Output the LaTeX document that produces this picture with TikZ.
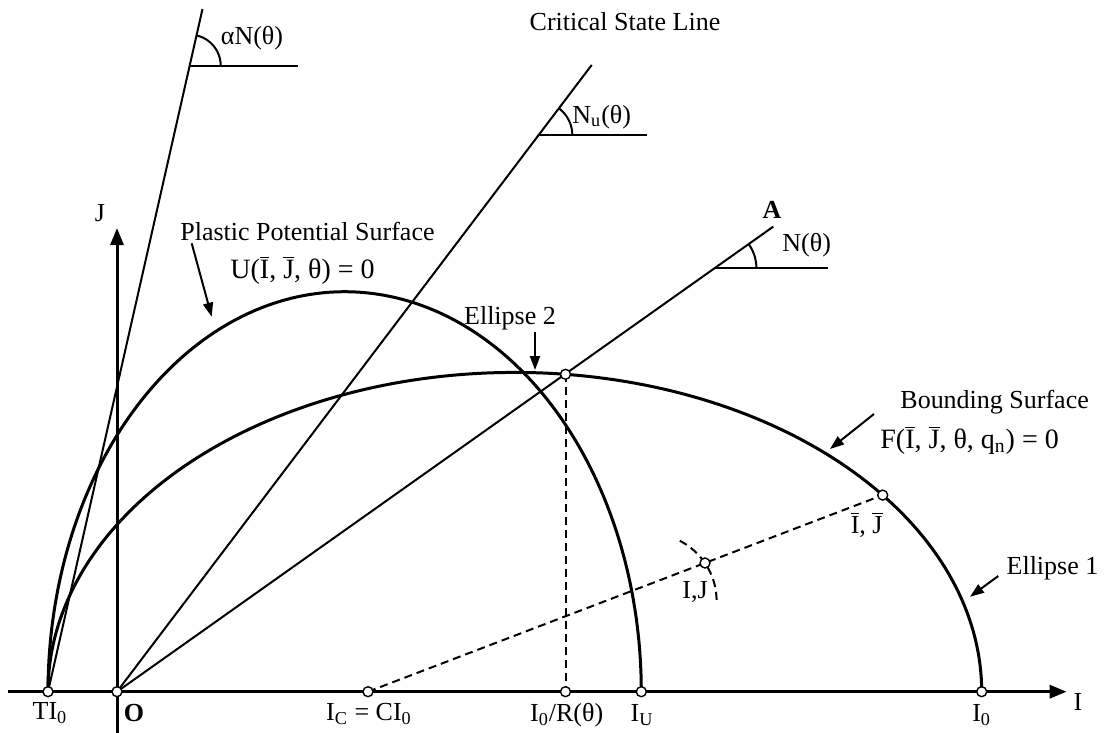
\documentclass[tikz,border=0pt]{standalone}
\usepackage{fontspec}
\setmainfont{Liberation Serif}
\usetikzlibrary{arrows.meta}
\newcommand{\ob}[1]{$\overline{\mbox{#1}}$}
\begin{document}
\begin{tikzpicture}[x=0.5pt,y=-0.5pt,
  lbl/.style={font=\fontsize{13pt}{15pt}\selectfont, inner sep=0pt},
  eqn/.style={font=\fontsize{14pt}{16pt}\selectfont, inner sep=0pt},
  pt/.style={circle,draw,fill=white,inner sep=0pt,minimum size=5pt,line width=0.7pt},
  axisline/.style={line width=1.5pt,-{Triangle[length=8.5pt,width=6.5pt]}},
  curve/.style={line width=1.5pt},
  thinline/.style={line width=1pt},
  dashline/.style={line width=1pt,dash pattern=on 4pt off 2.5pt},
  callout/.style={line width=1pt,-{Triangle[length=7pt,width=5pt]}},
  angmark/.style={line width=1pt}
]
\useasboundingbox (0,0) rectangle (1104,733);

% key coordinates
\coordinate (O) at (117,691.7);
\coordinate (TI) at (48,691.7);
\coordinate (IC) at (368,691.7);
\coordinate (IR) at (565.5,691.7);
\coordinate (IU) at (641.3,691.7);
\coordinate (I0) at (981.7,691.7);
\coordinate (P) at (565.5,374.3);
\coordinate (B) at (882.7,495.1);
\coordinate (IJ) at (705,563);
\coordinate (CSLend) at (591.7,65);
\coordinate (Aend) at (773.3,226.6);
\coordinate (aNend) at (202.5,9);
\coordinate (Xs) at (8,691.7);
\coordinate (Xe) at (1066.7,691.7);
\coordinate (Js) at (117,733);
\coordinate (Je) at (117,228);
\coordinate (V1) at (189.7,65.7);
\coordinate (H1) at (298.3,65.7);
\coordinate (V2) at (539.3,135);
\coordinate (H2) at (646.7,135);
\coordinate (V3) at (714.4,268.3);
\coordinate (H3) at (828.3,268.3);

% surfaces
\draw[curve] plot[domain=180:360,samples=150] ({514.85+466.85*cos(\x)},{691.7+319.3*sin(\x)});
\draw[curve] plot[domain=180:360,samples=150] ({344.65+296.65*cos(\x)},{691.7+400*sin(\x)});
\draw[dashline] plot[domain=1:66,samples=40] ({649+67.6*cos(\x)},{601-67.6*sin(\x)});

% lines through O and TI0
\draw[thinline] (O) -- (CSLend);
\draw[thinline] (O) -- (Aend);
\draw[thinline] (TI) -- (aNend);

% dashed lines
\draw[dashline] (P) -- (IR);
\draw[dashline] (IC) -- (B);

% axes
\draw[axisline] (Xs) -- (Xe);
\draw[axisline] (Js) -- (Je);

% angle marks
\draw[angmark] (V1) -- (H1);
\draw[angmark] plot[domain=0:77.25,samples=30] ({189.7+31*cos(\x)},{65.7-31*sin(\x)});
\draw[angmark] (V2) -- (H2);
\draw[angmark] plot[domain=0:52.85,samples=30] ({539.3+33*cos(\x)},{135-33*sin(\x)});
\draw[angmark] (V3) -- (H3);
\draw[angmark] plot[domain=0:35.32,samples=30] ({714.4+42*cos(\x)},{268.3-42*sin(\x)});

% points
\foreach \p in {TI,O,IC,IR,IU,I0,P,B,IJ} \node[pt] (n\p) at (\p) {};

% labels
\node[lbl] (laN) at (252,38) {αN(θ)};
\node[lbl] (lNu) at (601.7,117) {N\textsubscript{u}(θ)};
\node[lbl] (lN) at (806.7,245) {N(θ)};
\node[lbl] (lCSL) at (625,22) {Critical State Line};
\node[lbl,font=\fontsize{13pt}{15pt}\selectfont\bfseries] (lA) at (772,210) {A};
\node[lbl] (lJ) at (100,213) {J};
\node[lbl,anchor=west] (lPPS) at (180,231.7) {Plastic Potential Surface};
\node[eqn,anchor=west] (lU) at (230,270) {U(\ob{I}, \ob{J}, θ) = 0};
\node[lbl] (lE2) at (510,318) {Ellipse 2};
\node[lbl,anchor=west] (lBS) at (900,402) {Bounding Surface};
\node[eqn,anchor=west] (lF) at (880,440) {F(\ob{I}, \ob{J}, θ, q\textsubscript{n}) = 0};
\node[lbl] (lE1) at (1052.5,568) {Ellipse 1};
\node[lbl] (lB) at (866.7,525) {\ob{I}, \ob{J}};
\node[lbl] (lIJ) at (695,591.7) {I,J};
\node[lbl] (lTI) at (50,713) {TI\textsubscript{0}};
\node[lbl,font=\fontsize{13pt}{15pt}\selectfont\bfseries] (lO) at (134,713) {O};
\node[lbl] (lIC) at (369,714) {I\textsubscript{C} = CI\textsubscript{0}};
\node[lbl] (lIR) at (566.7,715) {I\textsubscript{0}/R(θ)};
\node[lbl] (lIU) at (642,715) {I\textsubscript{U}};
\node[lbl] (lI0) at (981.7,715) {I\textsubscript{0}};
\node[lbl] (lI) at (1078,702) {I};

% callout arrows
\coordinate (tPPS) at (211.7,316.7);
\coordinate (tE2) at (535,370);
\coordinate (tBS) at (830,449);
\coordinate (tE1) at (970,596.7);
\draw[callout] (191.7,243.3) -- (tPPS);
\draw[callout] (535,332) -- (tE2);
\draw[callout] (874,414) -- (tBS);
\draw[callout] (998.3,576) -- (tE1);
\end{tikzpicture}
\end{document}
